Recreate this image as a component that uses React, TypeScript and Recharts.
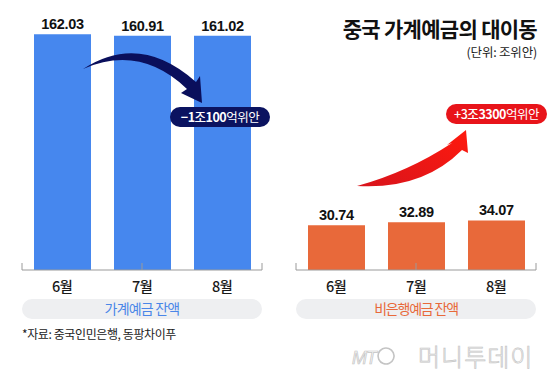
import React from 'react';
import { BarChart, Bar, XAxis, YAxis, LabelList } from 'recharts';

const months = ['6월', '7월', '8월'];
const householdDeposits = [162.03, 160.91, 161.02];
const nonBankDeposits = [30.74, 32.89, 34.07];
const boundaryTicks = [0, 1, 2, 3];
const valueDomain: [number, number] = [0, 180];

const title = '중국 가계예금의 대이동';
const unitNote = '(단위: 조위안)';
const householdLabel = '가계예금 잔액';
const nonBankLabel = '비은행예금 잔액';
const sourceNote = '*자료: 중국인민은행, 동팡차이푸';

const KR = '"Noto Sans CJK KR", "Noto Sans", sans-serif';
const NUM = '"Liberation Sans", Arial, sans-serif';

const householdData = months.map((m, i) => ({ month: m, value: householdDeposits[i] }));
const nonBankData = months.map((m, i) => ({ month: m, value: nonBankDeposits[i] }));

const MonthTick = (props: any) => {
  const { x, y, payload } = props;
  return (
    <text x={x} y={y + 22} textAnchor="middle" fontFamily={KR} fontSize={14.5} fontWeight={500} fill="#1a1a1a" letterSpacing={-0.8}>
      {payload.value}
    </text>
  );
};

const EmptyTick = () => <g />;

const Panel = ({ data, color, left, marginLeft, marginRight }: any) => (
  <div style={{ position: 'absolute', left, top: 0 }}>
    <BarChart width={280} height={300} data={data} margin={{ top: 8, right: marginRight, left: marginLeft, bottom: 0 }}>
      <YAxis hide domain={valueDomain} allowDataOverflow />
      <XAxis
        xAxisId="cat"
        dataKey="month"
        height={30}
        tickLine={false}
        tickSize={0}
        tickMargin={0}
        axisLine={{ stroke: '#9a9a9a' }}
        tick={MonthTick}
        interval={0}
      />
      <XAxis
        xAxisId="grid"
        type="number"
        domain={[0, 3]}
        allowDataOverflow
        ticks={boundaryTicks}
        interval={0}
        mirror
        tickSize={7}
        axisLine={false}
        tickLine={{ stroke: '#9a9a9a' }}
        tick={EmptyTick}
      />
      <Bar xAxisId="cat" dataKey="value" fill={color} barSize={57} isAnimationActive={false}>
        <LabelList
          dataKey="value"
          position="top"
          offset={5}
          formatter={(v: any) => Number(v).toFixed(2)}
          style={{ fill: '#111', fontSize: 14.5, fontWeight: 700, fontFamily: NUM, letterSpacing: -0.3 }}
        />
      </Bar>
    </BarChart>
  </div>
);

export default function App() {
  return (
    <div style={{ position: 'absolute', left: 0, top: 0, width: 560, height: 384, background: '#fff', overflow: 'hidden' }}>
      <Panel data={householdData} color="#4687ee" left={0} marginLeft={22} marginRight={18} />
      <Panel data={nonBankData} color="#e8693a" left={280} marginLeft={16} marginRight={24} />
      <svg width={560} height={384} style={{ position: 'absolute', left: 0, top: 0, pointerEvents: 'none' }}>
        <defs>
          <linearGradient id="redArrow" x1="0" y1="1" x2="1" y2="0">
            <stop offset="0" stopColor="#d8141c" />
            <stop offset="1" stopColor="#ff1a0e" />
          </linearGradient>
        </defs>
        {/* title */}
        <text x={537} y={36.5} textAnchor="end" fontFamily={KR} fontSize={21} fontWeight={700} fill="#111" letterSpacing={-0.7}>
          {title}
        </text>
        <text x={537} y={56.5} textAnchor="end" fontFamily={KR} fontSize={12.5} fill="#222" letterSpacing={-0.2}>
          {unitNote}
        </text>

        {/* blue arrow */}
        <path d="M 83 69 Q 140 32 196 82 L 200 76 L 202 103 L 181 93 L 187 89 Q 140 44 83 69 Z" fill="#0a0f5c" />
        <rect x={170} y={107} width={100} height={20} rx={10} fill="#0b1360" />
        <text x={220} y={121.5} textAnchor="middle" fontFamily={KR} fontSize={12.5} fill="#fff" letterSpacing={-0.5}>
          <tspan fontWeight={700}>−1</tspan>
          <tspan fontWeight={500}>조</tspan>
          <tspan fontWeight={700}>100</tspan>
          <tspan fontWeight={400}>억위안</tspan>
        </text>

        {/* red arrow */}
        <path d="M 357 186 Q 422 190 462 150 L 468 153 L 466 130 L 447 145 L 452 143 Q 408 172 357 186 Z" fill="url(#redArrow)" />
        <rect x={446} y={104} width={101} height={20} rx={10} fill="#e8141a" />
        <text x={496.5} y={118.5} textAnchor="middle" fontFamily={KR} fontSize={12.5} fill="#fff" letterSpacing={-0.5}>
          <tspan fontWeight={500}>+3</tspan>
          <tspan fontWeight={500}>조</tspan>
          <tspan fontWeight={700}>3300</tspan>
          <tspan fontWeight={400}>억위안</tspan>
        </text>

        {/* pills */}
        <rect x={22} y={299} width={240} height={20} rx={10} fill="#eeeff1" />
        <text x={142} y={314} textAnchor="middle" fontFamily={KR} fontSize={14} fill="#4a86e8" letterSpacing={-0.8}>
          {householdLabel}
        </text>
        <rect x={296} y={299} width={240} height={20} rx={10} fill="#eeeff1" />
        <text x={416} y={314} textAnchor="middle" fontFamily={KR} fontSize={14} fill="#e8693a" letterSpacing={-1.2}>
          {nonBankLabel}
        </text>

        {/* source */}
        <text x={22} y={339} fontFamily={KR} fontSize={12} fill="#222" letterSpacing={-0.4}>
          {sourceNote}
        </text>

        {/* watermark */}
        <text x={352} y={364} fontFamily={NUM} fontStyle="italic" fontSize={18} fill="#fafafa" stroke="#c4c4c4" strokeWidth={0.7} letterSpacing={-1}>
          MT
        </text>
        <ellipse cx={386} cy={356} rx={8} ry={8} fill="none" stroke="#c4c4c4" strokeWidth={1.6} transform="rotate(20 386 356)" />
        <text x={418} y={366} fontFamily={KR} fontSize={24} fontWeight={300} fill="#fafafa" stroke="#c4c4c4" strokeWidth={0.7} letterSpacing={1}>
          머니투데이
        </text>
      </svg>
    </div>
  );
}
